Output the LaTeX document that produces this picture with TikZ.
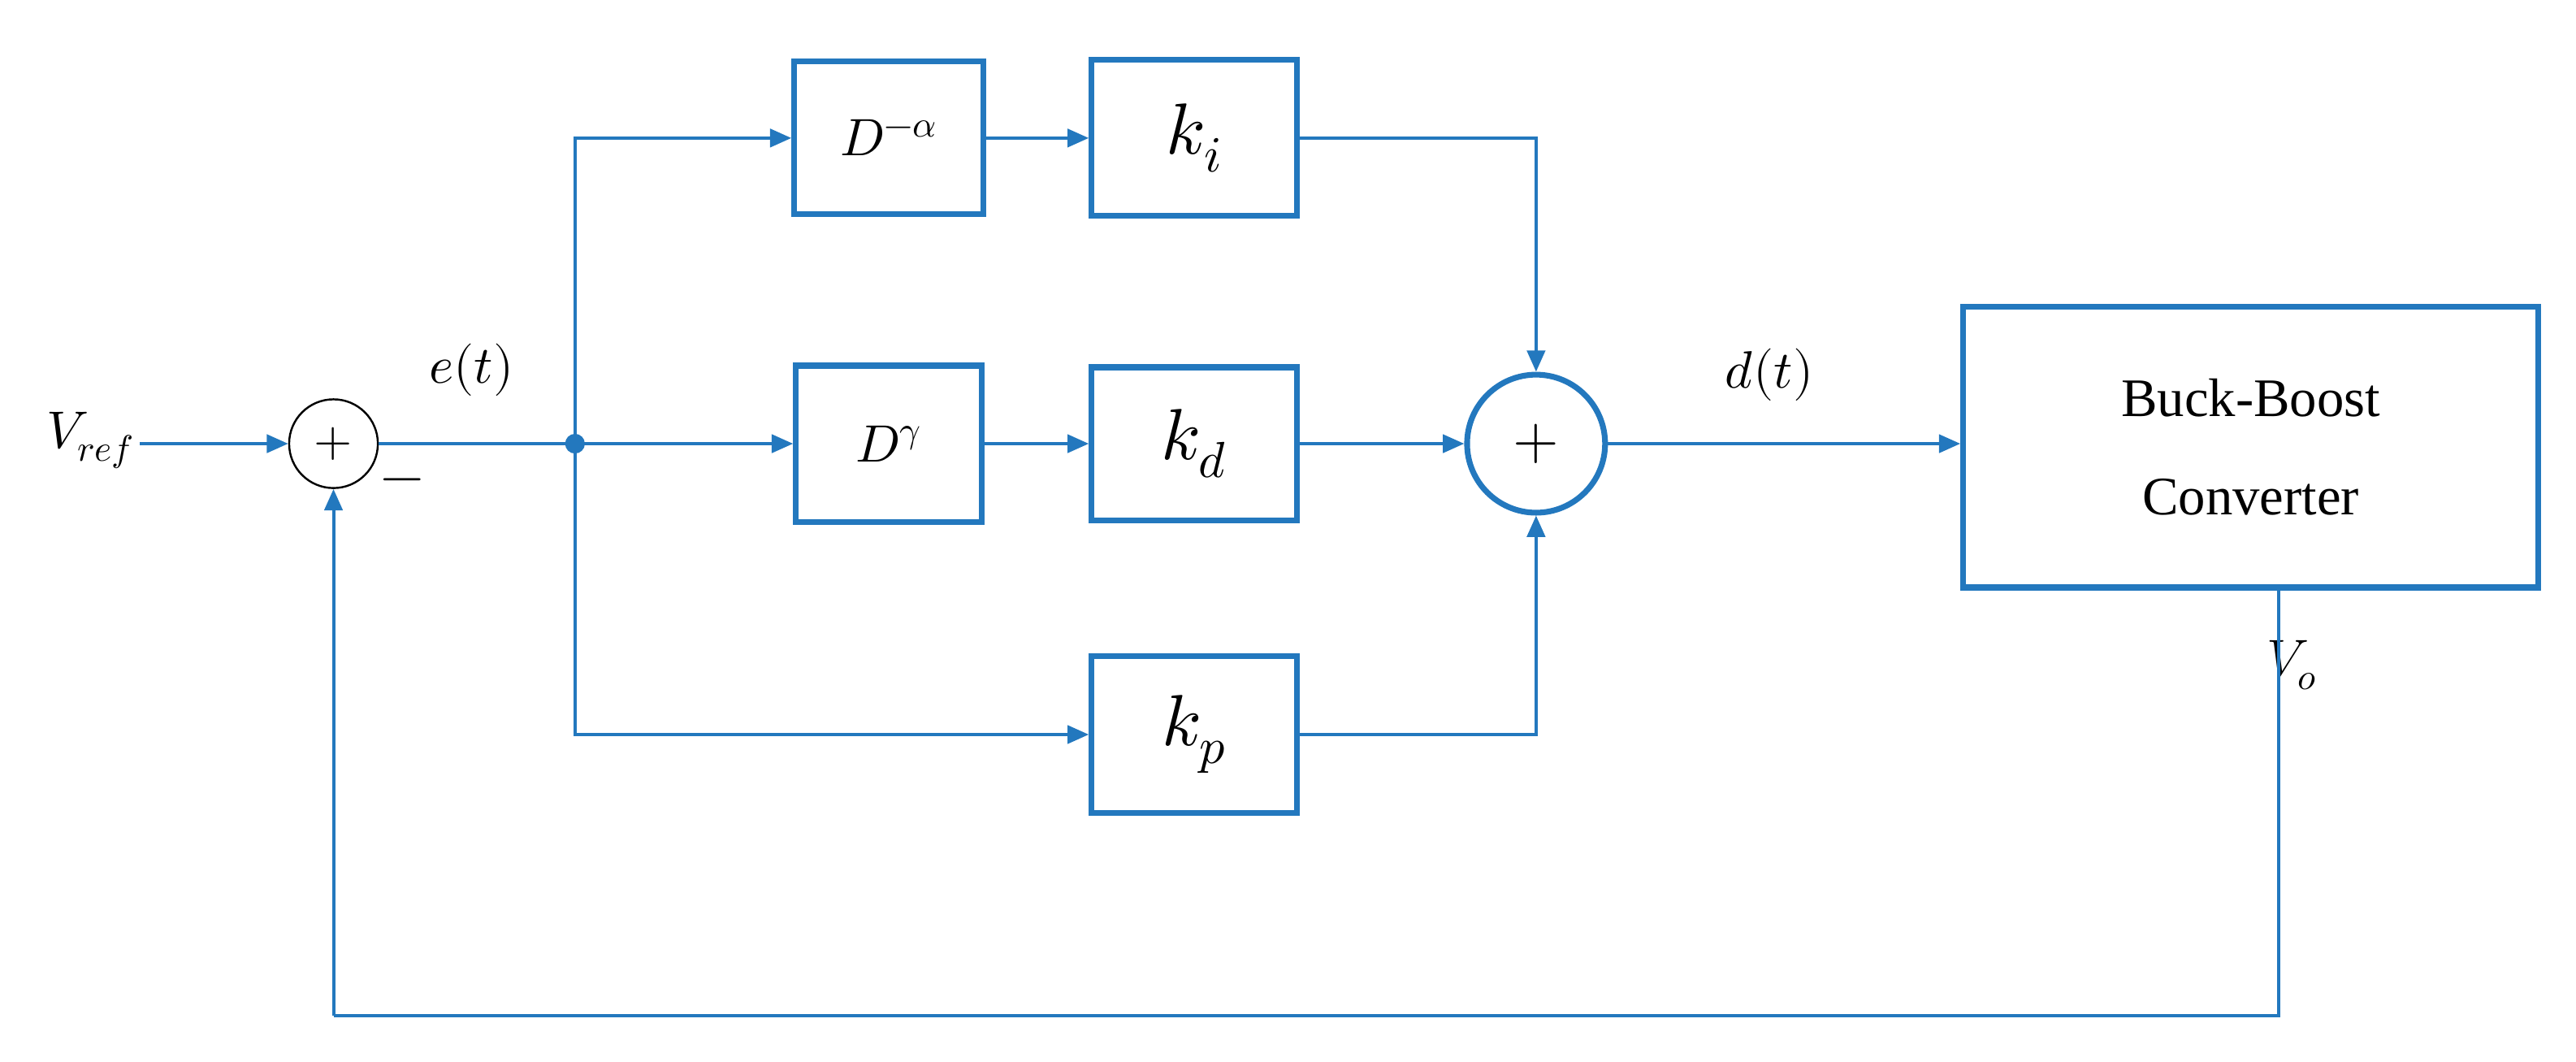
\documentclass[tikz,border=0pt]{standalone}
\usepackage{fontspec}
\usepackage{unicode-math}
\setmathfont{Latin Modern Math}
\newfontfamily\cvf{Liberation Serif}
\usetikzlibrary{arrows.meta}
\definecolor{bl}{RGB}{35,120,190}
\begin{document}
\begin{tikzpicture}[x=1pt,y=-1pt,
  blk/.style={draw=bl,line width=3.5pt,inner sep=0pt},
  con/.style={draw=bl,line width=2pt,-{Triangle[length=13pt,width=11pt]}},
  ln/.style={draw=bl,line width=2pt},
  big/.style={font=\fontsize{44}{48}\selectfont},
  med/.style={font=\fontsize{32}{36}\selectfont}]
\useasboundingbox (0,0) rectangle (1568,646);
\node[med] (vref) at (55,268) {$V_{ref}$};
\node[draw=black,line width=1.2pt,circle,minimum size=54pt,inner sep=0pt,font=\fontsize{30}{30}\selectfont] (s1) at (203,270) {$+$};
\node[font=\fontsize{34}{34}\selectfont] (minus) at (245,296) {$\boldsymbol{-}$};
\node[med] (et) at (287,225) {$e(t)$};
\coordinate (j) at (350,270);
\fill[bl] (j) circle (6pt);
\node[blk,minimum width=115pt,minimum height=93pt,med] (da) at (541,84) {$D^{-\alpha}$};
\node[blk,minimum width=125pt,minimum height=95pt,big] (ki) at (727,84) {$k_i$};
\node[blk,minimum width=113pt,minimum height=95pt,med] (dg) at (541,270) {$D^{\gamma}$};
\node[blk,minimum width=125pt,minimum height=93pt,big] (kd) at (727,270) {$k_d$};
\node[blk,minimum width=125pt,minimum height=95pt,big] (kp) at (727,447) {$k_p$};
\node[draw=bl,line width=3.5pt,circle,minimum size=84pt,inner sep=0pt,font=\fontsize{36}{36}\selectfont] (s2) at (935,270) {$+$};
\node[med] (dt) at (1077,228) {$d(t)$};
\node[blk,minimum width=350pt,minimum height=171pt,align=center,font=\cvf\fontsize{33}{60}\selectfont] (bb) at (1370,272) {Buck-Boost\\Converter};
\node[med] (vo) at (1395,405) {$V_o$};
\coordinate (fb) at (1387,618);
\coordinate (fbl) at (203,618);
\draw[con] (vref.east |- s1) -- (s1.west);
\draw[ln] (s1.east) -- (j);
\draw[con] (j) -- (dg.west);
\draw[con] (j) |- (da.west);
\draw[con] (j) |- (kp.west);
\draw[con] (da.east) -- (ki.west);
\draw[con] (dg.east) -- (dg.east -| kd.west);
\draw[con] (ki.east) -| (s2.north);
\draw[con] (kd.east) -- (s2.west);
\draw[con] (kp.east) -| (s2.south);
\draw[con] (s2.east) -- (s2.east -| bb.west);
\draw[ln] (bb.south -| fb) -- (fb) -- (fbl);
\draw[con] (fbl) -- (s1.south);
\end{tikzpicture}
\end{document}
